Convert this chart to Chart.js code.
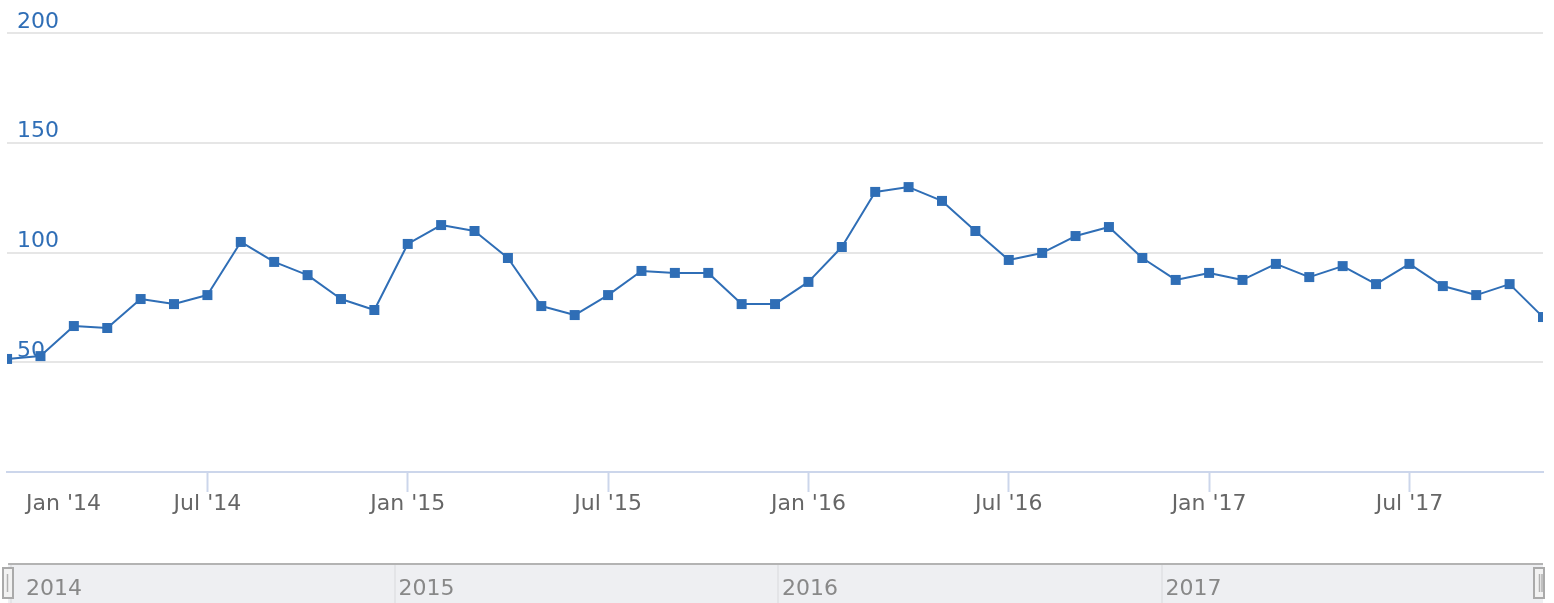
<!DOCTYPE html>
<html><head><meta charset="utf-8">
<script src="https://cdn.jsdelivr.net/npm/chart.js@4.4.1/dist/chart.umd.min.js"></script>
<style>html,body{margin:0;padding:0;background:#fff;overflow:hidden}#c{display:block}</style>
</head><body>
<canvas id="c" width="1554" height="603"></canvas>
<script>
const categories = [
  '2014-01','2014-02','2014-03','2014-04','2014-05','2014-06','2014-07','2014-08','2014-09','2014-10','2014-11','2014-12',
  '2015-01','2015-02','2015-03','2015-04','2015-05','2015-06','2015-07','2015-08','2015-09','2015-10','2015-11','2015-12',
  '2016-01','2016-02','2016-03','2016-04','2016-05','2016-06','2016-07','2016-08','2016-09','2016-10','2016-11','2016-12',
  '2017-01','2017-02','2017-03','2017-04','2017-05','2017-06','2017-07','2017-08','2017-09','2017-10','2017-11'
];
const values = [
  51.5, 52.8, 66.5, 65.6, 78.8, 76.5, 80.6, 104.8, 95.7, 89.7, 78.8, 73.8,
  103.9, 112.5, 109.8, 97.5, 75.6, 71.5, 80.6, 91.6, 90.7, 90.7, 76.5, 76.5,
  86.6, 102.5, 127.6, 129.8, 123.5, 109.8, 96.6, 99.8, 107.5, 111.6, 97.5, 87.5,
  90.7, 87.5, 94.8, 88.8, 93.8, 85.6, 94.8, 84.7, 80.6, 85.6, 70.6
];
const xTickCategories = ['2014-01','2014-07','2015-01','2015-07','2016-01','2016-07','2017-01','2017-07'];
const xTickLabels = ["Jan '14","Jul '14","Jan '15","Jul '15","Jan '16","Jul '16","Jan '17","Jul '17"];
const yTickValues = [0, 50, 100, 150, 200];
const navYears = [2014, 2015, 2016, 2017];
const navYearLabels = ['2014', '2015', '2016', '2017'];

const FONT = '"DejaVu Sans", sans-serif';
const BLUE = '#2f6eb6';

const overlay = {
  id: 'overlay',
  afterDraw(chart) {
    const ctx = chart.ctx;
    const xs = chart.scales.x;
    const nav = chart.scales.nav;
    const area = chart.chartArea;
    ctx.save();
    // x tick labels
    ctx.font = '22px ' + FONT;
    ctx.fillStyle = '#666666';
    ctx.textAlign = 'center';
    ctx.textBaseline = 'alphabetic';
    xTickCategories.forEach((c, i) => {
      let px = xs.getPixelForValue(categories.indexOf(c));
      const w = ctx.measureText(xTickLabels[i]).width;
      px = Math.max(px, 26 + w / 2);
      ctx.fillText(xTickLabels[i], px, 510);
    });
    // navigator
    const nl = area.left + 1, nr = area.right;
    const top = 564;
    ctx.fillStyle = '#eeeff2';
    ctx.fillRect(nl, top, nr - nl, chart.height - top);
    ctx.strokeStyle = '#e3e4e7';
    ctx.lineWidth = 2;
    navYears.forEach(y => {
      const px = Math.round(nav.getPixelForValue(y));
      ctx.beginPath(); ctx.moveTo(px, top); ctx.lineTo(px, chart.height); ctx.stroke();
    });
    ctx.strokeStyle = '#b3b3b3';
    ctx.lineWidth = 2;
    ctx.beginPath(); ctx.moveTo(nl, top); ctx.lineTo(nr, top); ctx.stroke();
    ctx.fillStyle = '#888888';
    ctx.textAlign = 'left';
    navYears.forEach((y, i) => {
      const px = Math.max(nav.getPixelForValue(y) + 4, 26);
      ctx.fillText(navYearLabels[i], px, 595);
    });
    // handles
    const handle = (hx, grips) => {
      ctx.fillStyle = '#f2f2f2';
      ctx.fillRect(hx, 568, 10, 30);
      ctx.strokeStyle = '#aaaaaa';
      ctx.lineWidth = 2;
      ctx.strokeRect(hx, 568, 10, 30);
      ctx.strokeStyle = '#b0b0b0';
      ctx.lineWidth = 1.5;
      grips.forEach(g => { ctx.beginPath(); ctx.moveTo(hx + g, 574); ctx.lineTo(hx + g, 592); ctx.stroke(); });
    };
    handle(3, [4.5]);
    handle(1534, [5.5, 8]);
    ctx.restore();
  }
};

new Chart(document.getElementById('c'), {
  type: 'line',
  data: {
    datasets: [{
      data: values.map((v, i) => ({ x: i, y: v })),
      borderColor: BLUE,
      backgroundColor: BLUE,
      borderWidth: 2,
      borderJoinStyle: 'round',
      pointStyle: 'rect',
      pointRadius: 7.07,
      pointHoverRadius: 7.07,
      pointBorderWidth: 0,
      pointBackgroundColor: BLUE,
      tension: 0,
      fill: false,
      clip: 0
    }]
  },
  options: {
    responsive: false,
    animation: false,
    devicePixelRatio: 1,
    events: [],
    layout: { padding: { left: 5, right: 11, top: 33, bottom: 111 } },
    plugins: { legend: { display: false }, tooltip: { enabled: false } },
    scales: {
      x: {
        type: 'linear', position: 'bottom', min: 0, max: categories.length - 1,
        afterBuildTicks: s => { s.ticks = xTickCategories.map(c => ({ value: categories.indexOf(c) })); },
        afterFit: s => { s.height = 20; },
        ticks: { display: false },
        grid: {
          drawOnChartArea: false, drawTicks: true, tickLength: 20, tickWidth: 2,
          tickColor: c => (c.tick && c.tick.value === 0) ? 'rgba(0,0,0,0)' : '#ccd6eb'
        },
        border: { display: true, color: '#ccd6eb', width: 2 }
      },
      nav: { type: 'linear', axis: 'x', position: 'bottom', display: false, min: 2013.9896, max: 2017.9948 },
      y: {
        type: 'linear', position: 'left', min: 0, max: 200,
        afterBuildTicks: s => { s.ticks = yTickValues.map(v => ({ value: v })); },
        afterFit: s => { s.width = 0; },
        ticks: {
          mirror: true, padding: 10, labelOffset: -11, color: BLUE,
          font: { family: FONT, size: 22 },
          callback: v => v === 0 ? '' : String(v)
        },
        grid: {
          drawTicks: false, lineWidth: 2,
          color: c => (c.tick && c.tick.value === 0) ? 'rgba(0,0,0,0)' : '#e6e6e6'
        },
        border: { display: false }
      }
    }
  },
  plugins: [overlay]
});
</script>
</body></html>
